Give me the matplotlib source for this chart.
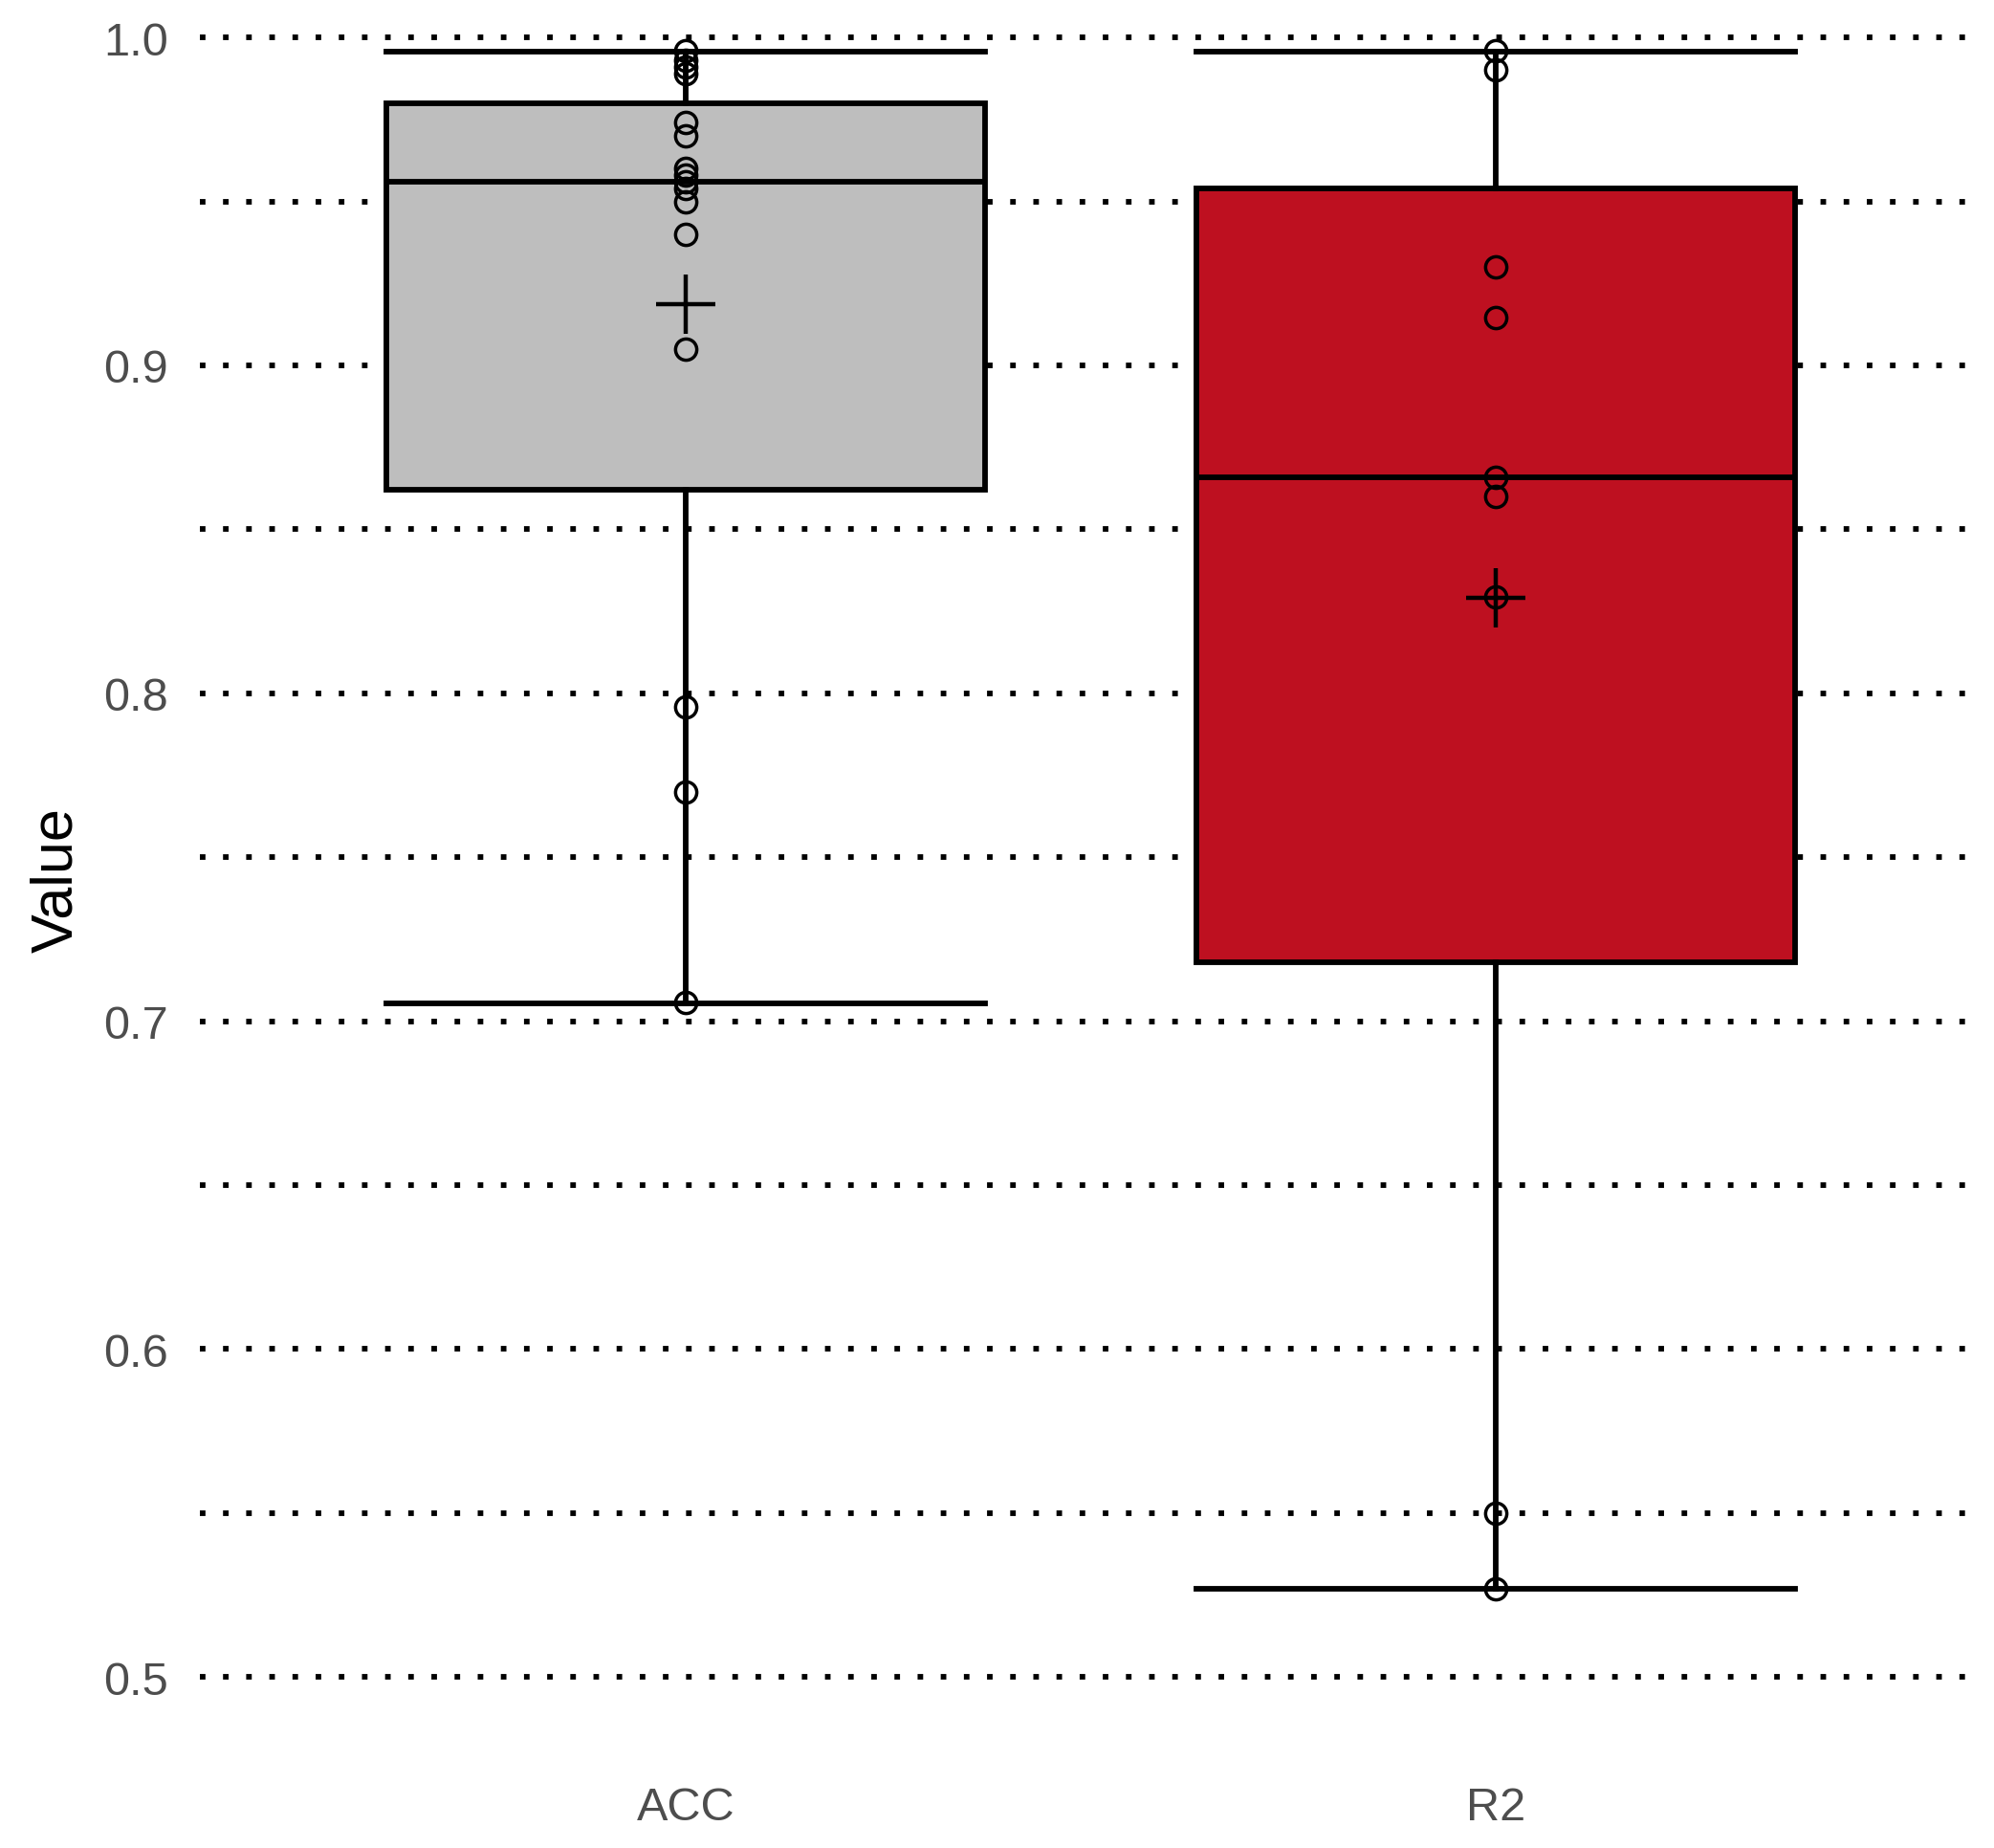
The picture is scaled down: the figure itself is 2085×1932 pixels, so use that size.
import numpy as np
import matplotlib
matplotlib.use("Agg")
import matplotlib.pyplot as plt

# categories and summary stats
labels = ["ACC", "R2"]
fills = ["#BEBEBE", "#BE1020"]
q1s = [0.862, 0.718]
medians = [0.956, 0.866]
q3s = [0.980, 0.954]
whis_lo = [0.7055, 0.527]
whis_hi = [0.9956, 0.9956]
means = [0.9187, 0.8292]

# individual observations
acc_points = [0.996, 0.993, 0.991, 0.989, 0.974, 0.970, 0.960, 0.958, 0.956,
              0.954, 0.950, 0.940, 0.905, 0.796, 0.770, 0.7057]
r2_points = [0.996, 0.990, 0.930, 0.9145, 0.866, 0.860, 0.8295, 0.550, 0.527]
points = [acc_points, r2_points]

plt.rcParams["font.family"] = ["Liberation Sans", "DejaVu Sans"]

fig = plt.figure(figsize=(20.85, 19.33), dpi=100)
ax = fig.add_axes([0.1002, 0.0481, 0.8936, 0.9519])

stats = []
for i in range(len(labels)):
    stats.append({"med": medians[i], "q1": q1s[i], "q3": q3s[i],
                  "whislo": whis_lo[i], "whishi": whis_hi[i],
                  "mean": means[i], "fliers": []})

lw = 4.2
pos = np.arange(1, len(labels) + 1)
bp = ax.bxp(stats, positions=pos, widths=0.74, capwidths=0.74,
            patch_artist=True, showmeans=True, showfliers=False,
            boxprops=dict(linewidth=lw, edgecolor="black"),
            medianprops=dict(linewidth=lw, color="black"),
            whiskerprops=dict(linewidth=lw, color="black"),
            capprops=dict(linewidth=lw, color="black"),
            meanprops=dict(marker="+", markersize=44, markeredgewidth=3.2,
                           markeredgecolor="black", zorder=6))
for patch, c in zip(bp["boxes"], fills):
    patch.set_facecolor(c)

for p, vals in zip(pos, points):
    ax.plot(np.full(len(vals), p), vals, linestyle="none", marker="o",
            markersize=16, markerfacecolor="none", markeredgecolor="black",
            markeredgewidth=2.5, zorder=5)

ax.set_xlim(0.4, 2.6)
ax.set_ylim(0.475, 1.0117)
ax.set_yticks(np.arange(0.5, 1.01, 0.1))
ax.set_yticks(np.arange(0.55, 1.0, 0.1), minor=True)
ax.set_yticklabels(["%.1f" % v for v in np.arange(0.5, 1.01, 0.1)])
ax.set_xticks(pos)
ax.set_xticklabels(labels)

ax.set_axisbelow(True)
ax.grid(axis="y", which="both", color="black", linewidth=4.2,
        linestyle=(0, (1, 3.15)), dash_capstyle="butt")
ax.grid(axis="x", visible=False)
for s in ax.spines.values():
    s.set_visible(False)
ax.tick_params(axis="both", which="both", length=0, labelsize=35,
               labelcolor="#4D4D4D")
ax.tick_params(axis="y", pad=24)
ax.tick_params(axis="x", pad=20)
ax.set_ylabel("Value", fontsize=44, color="black", labelpad=14)

fig.savefig("out.png", dpi=100)
